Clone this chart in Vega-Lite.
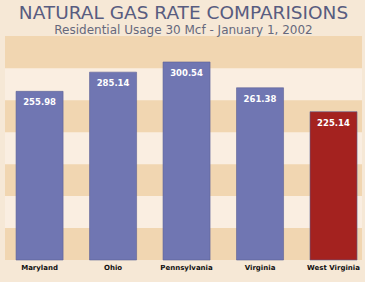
{
  "$schema": "https://vega.github.io/schema/vega-lite/v6.json",
  "width": 357,
  "height": 224,
  "autosize": {"type": "none"},
  "padding": {"left": 5, "top": 36, "right": 3, "bottom": 22},
  "background": "#f6e8d6",
  "config": {"view": {"stroke": null, "fill": "#faeee1"}},
  "title": {
    "text": "NATURAL GAS RATE COMPARISIONS",
    "subtitle": "Residential Usage 30 Mcf - January 1, 2002",
    "anchor": "middle",
    "font": "DejaVu Sans",
    "fontSize": 18.5,
    "fontWeight": "normal",
    "color": "#585c80",
    "subtitleFont": "DejaVu Sans",
    "subtitleFontSize": 12,
    "subtitleColor": "#66687c",
    "subtitlePadding": 3,
    "offset": 0
  },
  "layer": [
    {
      "data": {"values": [
        {"lo": 0, "hi": 48.5},
        {"lo": 97, "hi": 145.5},
        {"lo": 194, "hi": 242.5},
        {"lo": 291, "hi": 340}
      ]},
      "mark": {"type": "rect", "color": "#f1d6b1"},
      "encoding": {
        "y": {"field": "lo", "type": "quantitative", "scale": {"domain": [0, 340], "nice": false}, "axis": null},
        "y2": {"field": "hi"}
      }
    },
    {
      "data": {"values": [
        {"state": "Maryland", "rate": 255.98, "wv": "no"},
        {"state": "Ohio", "rate": 285.14, "wv": "no"},
        {"state": "Pennsylvania", "rate": 300.54, "wv": "no"},
        {"state": "Virginia", "rate": 261.38, "wv": "no"},
        {"state": "West Virginia", "rate": 225.14, "wv": "yes"}
      ]},
      "encoding": {
        "x": {
          "field": "state",
          "type": "nominal",
          "sort": null,
          "scale": {"paddingInner": 0.36, "paddingOuter": 0.109, "align": 0.69},
          "axis": {
            "title": null,
            "labelAngle": 0,
            "domain": false,
            "ticks": false,
            "labelPadding": 3,
            "labelFont": "DejaVu Sans",
            "labelFontSize": 7,
            "labelFontWeight": "bold",
            "labelColor": "#111111"
          }
        },
        "y": {"field": "rate", "type": "quantitative", "scale": {"domain": [0, 340], "nice": false}, "axis": null}
      },
      "layer": [
        {
          "mark": {"type": "bar", "stroke": "#5c6196", "strokeWidth": 0.6},
          "encoding": {
            "color": {
              "field": "wv",
              "type": "nominal",
              "scale": {"domain": ["no", "yes"], "range": ["#7076b2", "#a4221f"]},
              "legend": null
            }
          }
        },
        {
          "mark": {"type": "text", "baseline": "top", "dy": 7, "color": "#ffffff", "font": "DejaVu Sans", "fontSize": 8.5, "fontWeight": "bold"},
          "encoding": {"text": {"field": "rate", "type": "quantitative", "format": ".2f"}}
        }
      ]
    }
  ]
}
